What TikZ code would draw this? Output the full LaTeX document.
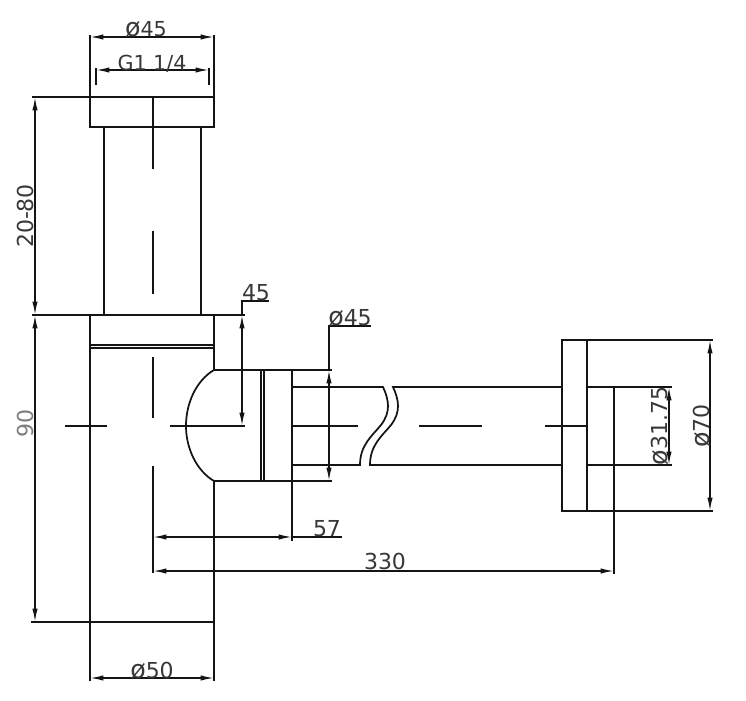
\documentclass[tikz,border=0pt]{standalone}
\usepackage{fontspec}
\setmainfont{DejaVu Sans}
\usetikzlibrary{arrows.meta}
\definecolor{inkline}{gray}{0.08}
\definecolor{inktext}{gray}{0.22}
\newcommand{\dia}{{\fontsize{19}{19}\selectfont ø}}
\tikzset{
  part/.style={draw=inkline,line width=1.3pt},
  dimline/.style={draw=inkline,line width=1.1pt,{Latex[length=10pt,width=4pt]}-{Latex[length=10pt,width=4pt]}},
  dimtext/.style={anchor=base,inner sep=0pt,text=inktext,font=\fontsize{15.5}{16}\selectfont},
  bigtext/.style={dimtext,font=\fontsize{16.5}{17}\selectfont},
}
\begin{document}
\begin{tikzpicture}[x=0.75pt,y=-0.75pt]
\useasboundingbox (0,0) rectangle (746,700);
% upper tube
\draw[part] (90,97) rectangle (214,127);
\draw[part] (104,127) -- (104,315);
\draw[part] (201,127) -- (201,315);
\draw[part] (153,97) -- (153,169);
\draw[part] (153,231) -- (153,294);
% body
\draw[part] (90,35) -- (90,97);
\draw[part] (214,35) -- (214,97);
\draw[part] (32,97) -- (214,97);
\draw[part] (32,315) -- (245,315);
\draw[part] (90,315) -- (90,681);
\draw[part] (214,315) -- (214,370);
\draw[part] (214,481) -- (214,681);
\draw[part] (90,345) -- (214,345);
\draw[part] (90,348) -- (214,348);
\draw[part] (31,622) -- (214,622);
\draw[part] (153,357) -- (153,418);
\draw[part] (153,466) -- (153,573);
% bulb and nut
\draw[part] (214,370) .. controls (197,380) and (186,402) .. (186,426) .. controls (186,449) and (197,471) .. (214,481);
\draw[part] (214,370) -- (332,370);
\draw[part] (214,481) -- (332,481);
\draw[part] (261,370) -- (261,481);
\draw[part] (264,370) -- (264,481);
\draw[part] (292,370) -- (292,541);
% pipe with break
\draw[part] (292,387) -- (383,387) .. controls (389,400) and (391,412) .. (381,425) .. controls (372,436) and (360,445) .. (360,465) -- (292,465);
\draw[part] (562,387) -- (393,387) .. controls (399,400) and (401,412) .. (391,425) .. controls (382,436) and (370,445) .. (370,465) -- (562,465);
% wall flange
\draw[part] (562,340) rectangle (587,511);
\draw[part] (587,340) -- (713,340);
\draw[part] (587,511) -- (713,511);
\draw[part] (587,387) -- (672,387);
\draw[part] (587,465) -- (672,465);
\draw[part] (614,387) -- (614,574);
% centre line
\draw[part] (65,426) -- (107,426);
\draw[part] (170,426) -- (245,426);
\draw[part] (293,426) -- (358,426);
\draw[part] (419,426) -- (482,426);
\draw[part] (545,426) -- (587,426);
% dimensions
\draw[dimline] (90,37) -- (214,37);
\draw[dimline] (96,70) -- (209,70);
\draw[part] (96,68) -- (96,85);
\draw[part] (209,68) -- (209,85);
\draw[dimline] (35,97) -- (35,315);
\draw[dimline] (35,315) -- (35,622);
\draw[dimline] (90,678) -- (214,678);
\draw[dimline] (242,315) -- (242,426);
\draw[part] (242,315) -- (242,301) -- (269,301);
\draw[dimline] (329,370) -- (329,481);
\draw[part] (329,370) -- (329,326) -- (371,326);
\draw[dimline] (153,537) -- (292,537);
\draw[part] (292,537) -- (342,537);
\draw[dimline] (153,571) -- (614,571);
\draw[dimline] (710,340) -- (710,511);
\draw[dimline] (669,387) -- (669,465);
% labels
\node[dimtext] (dtop) at (146,36) {\dia 45};
\node[dimtext] (thread) at (152,70.5) {G1 1/4};
\node[bigtext,rotate=90] (adjust) at (33,216) {20-80};
\node[bigtext,rotate=90,opacity=0.65] (height) at (33,423) {90};
\node[bigtext] (reach) at (256,300) {45};
\node[bigtext] (dnut) at (350,325) {\dia 45};
\node[bigtext] (dbody) at (152,678) {\dia 50};
\node[bigtext] (offset) at (327,536) {57};
\node[bigtext] (length) at (385,569) {330};
\node[bigtext,rotate=90] (dpipe) at (667,426) {\dia 31.75};
\node[bigtext,rotate=90] (dflange) at (709,426) {\dia 70};
\end{tikzpicture}
\end{document}
